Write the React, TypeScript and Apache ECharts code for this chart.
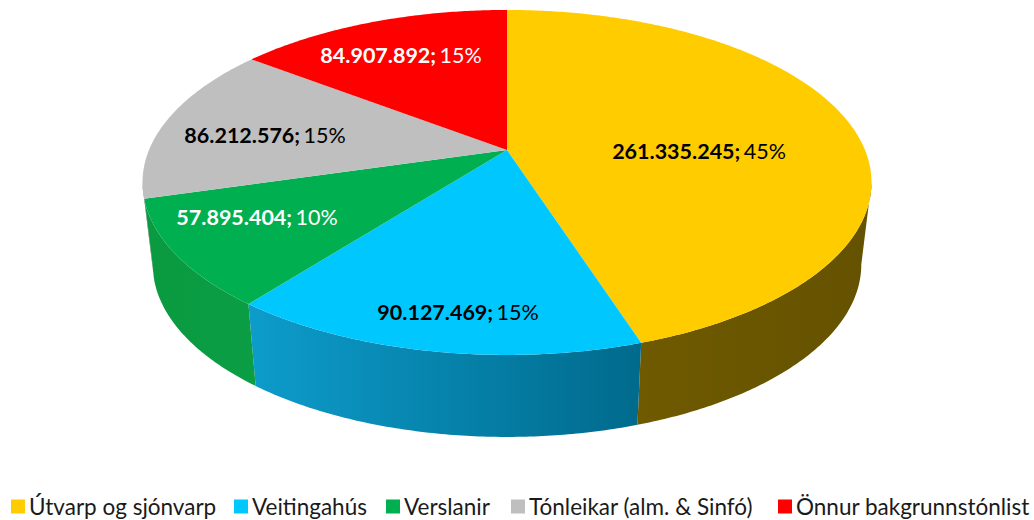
import React, { useEffect, useRef } from "react";
import * as echarts from "echarts";

const categories = ["Útvarp og sjónvarp", "Veitingahús", "Verslanir", "Tónleikar (alm. & Sinfó)", "Önnur bakgrunnstónlist"];
const values = [261335245, 90127469, 57895404, 86212576, 84907892];
const valueLabels = ["261.335.245;", "90.127.469;", "57.895.404;", "86.212.576;", "84.907.892;"];
const percentLabels = ["45%", "15%", "10%", "15%", "15%"];

const topColors = ["#ffcc00", "#00c8ff", "#00b050", "#bfbfbf", "#ff0000"];
const wallStops = [["#6f5a00", "#655200"], ["#0d9ccb", "#006a8c"], ["#0a9a40", "#0b9e44"], ["#a0a0a0", "#a0a0a0"], ["#b00000", "#b00000"]];
const labelColors = ["#000000", "#000000", "#ffffff", "#000000", "#ffffff"];
const labelCenters = [[699, 151], [458, 312], [257, 217], [265, 135], [401, 55]];
const legendLefts = [11, 234, 386, 511, 778];

// perspective projection of the pie disc
const CX = 507, CY = 150, A = 358, B = 166.4, K = 0.188;
const DEPTH = 82, BOTTOM_SCALE = 0.972;
const TOTAL = values.reduce((a, b) => a + b, 0);

function rim(theta: number, bottom = false): number[] {
  const u = Math.sin(theta), v = -Math.cos(theta), w = 1 - K * v;
  const s = bottom ? BOTTOM_SCALE : 1;
  return [CX + (A * u * s) / w, CY + (B * v) / w + (bottom ? DEPTH : 0)];
}

function arc(from: number, to: number, bottom = false): number[][] {
  const n = Math.max(2, Math.ceil((to - from) / 0.01));
  const pts: number[][] = [];
  for (let i = 0; i <= n; i++) pts.push(rim(from + ((to - from) * i) / n, bottom));
  return pts;
}

const VIS_FROM = Math.acos(-K);
const VIS_TO = 2 * Math.PI - Math.acos(-K);

function renderSlice(params: any) {
  const i = params.seriesIndex;
  let cum = 0;
  for (let j = 0; j < i; j++) cum += values[j];
  const a0 = (cum / TOTAL) * 2 * Math.PI;
  const a1 = ((cum + values[i]) / TOTAL) * 2 * Math.PI;
  const children: any[] = [];
  const wa = Math.max(a0, VIS_FROM), wb = Math.min(a1, VIS_TO);
  if (wb > wa) {
    const top = arc(wa, wb), bot = arc(wa, wb, true).reverse();
    children.push({
      type: "polygon",
      shape: { points: top.concat(bot) },
      style: {
        fill: new echarts.graphic.LinearGradient(0, 0, 1, 0, [
          { offset: 0, color: wallStops[i][0] },
          { offset: 1, color: wallStops[i][1] },
        ]),
      },
      silent: true,
    });
  }
  children.push({
    type: "polygon",
    shape: { points: [[CX, CY]].concat(arc(a0, a1)) },
    style: { fill: topColors[i] },
    silent: true,
  });
  children.push({
    type: "text",
    x: labelCenters[i][0],
    y: labelCenters[i][1],
    style: {
      text: `{b|${valueLabels[i]}} {n|${percentLabels[i]}}`,
      align: "center",
      verticalAlign: "middle",
      rich: {
        b: { fontFamily: "Lato", fontSize: 21.5, fontWeight: "bold", fill: labelColors[i], color: labelColors[i] },
        n: { fontFamily: "Lato", fontSize: 21.5, fill: labelColors[i], color: labelColors[i] },
      },
    },
    silent: true,
  });
  return { type: "group", children };
}

export default function App() {
  const ref = useRef<HTMLDivElement>(null);
  useEffect(() => {
    const chart = echarts.init(ref.current!, null, { renderer: "svg" });
    chart.setOption({
      animation: false,
      backgroundColor: "#ffffff",
      legend: categories.map((name, i) => ({
        data: [{ name, icon: "rect" }],
        left: legendLefts[i],
        top: 495,
        itemWidth: 14,
        itemHeight: 14,
        padding: 0,
        selectedMode: false,
        textStyle: { fontFamily: "Lato", fontSize: 22.5, color: "#1a1a1a", padding: [0, 0, 0, -1] },
      })),
      series: categories.map((name, i) => ({
        type: "custom",
        name,
        coordinateSystem: "none",
        itemStyle: { color: topColors[i] },
        data: [[values[i]]],
        renderItem: renderSlice,
      })),
    });
    return () => chart.dispose();
  }, []);
  return <div ref={ref} style={{ position: "fixed", left: 0, top: 0, width: 1034, height: 520 }} />;
}
